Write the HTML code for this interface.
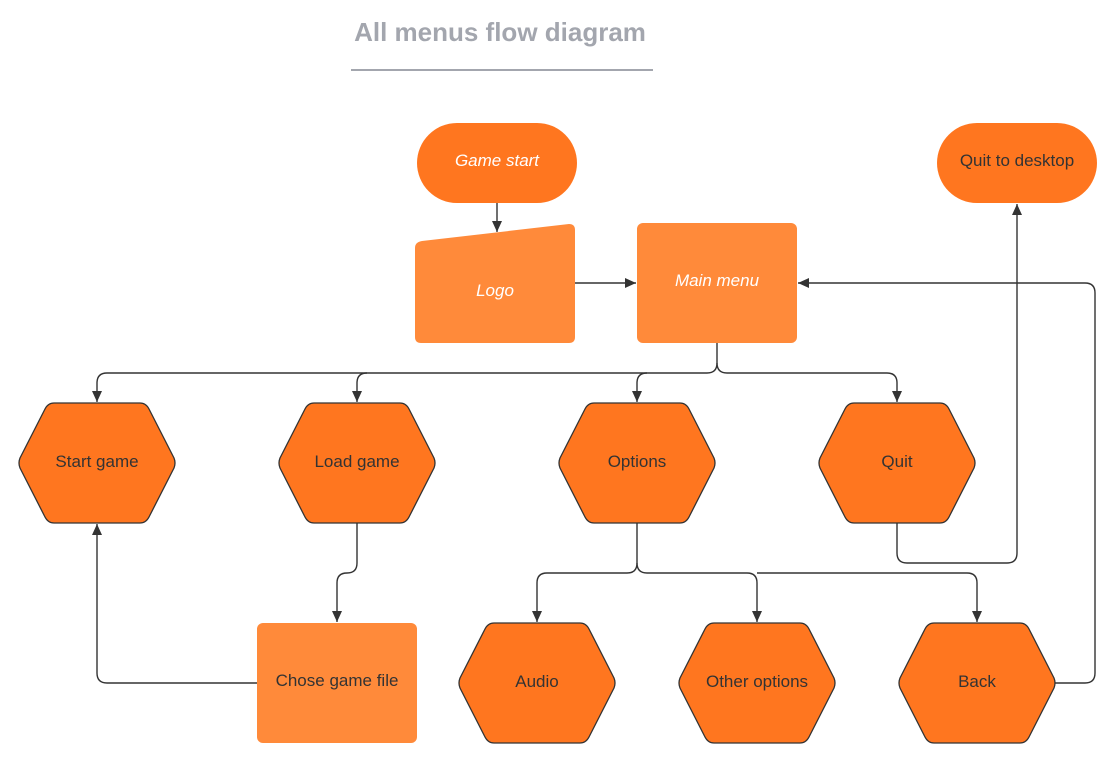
<!DOCTYPE html>
<html><head><style>
body{margin:0;background:#fff;}
svg{display:block;}
text{font-family:"Liberation Sans",sans-serif;}
</style></head><body>
<svg width="1105" height="783" viewBox="0 0 1105 783" xmlns="http://www.w3.org/2000/svg">
<defs>
<marker id="a" markerWidth="12" markerHeight="12" refX="11" refY="6" orient="auto" markerUnits="userSpaceOnUse">
<path d="M0,1 L11,6 L0,11 Z" fill="#333"/></marker>
</defs>
<text x="500" y="41" text-anchor="middle" font-size="26" font-weight="bold" fill="#A3A6AE">All menus flow diagram</text>
<line x1="351" y1="70" x2="653" y2="70" stroke="#A3A6AE" stroke-width="2"/>

<g fill="none" stroke="#333" stroke-width="1.4">
<path d="M497,203 V232" marker-end="url(#a)"/>
<path d="M575,283 H636" marker-end="url(#a)"/>
<path d="M717,343 V363 Q717,373 707,373 H107 Q97,373 97,383 V402" marker-end="url(#a)"/>
<path d="M367,373 Q357,373 357,383 V402" marker-end="url(#a)"/>
<path d="M647,373 Q637,373 637,383 V402" marker-end="url(#a)"/>
<path d="M717,363 Q717,373 727,373 H887 Q897,373 897,383 V402" marker-end="url(#a)"/>
<path d="M637,523 V563 Q637,573 627,573 H547 Q537,573 537,583 V622" marker-end="url(#a)"/>
<path d="M637,563 Q637,573 647,573 H747 Q757,573 757,583 V622" marker-end="url(#a)"/>
<path d="M757,573 H967 Q977,573 977,583 V622" marker-end="url(#a)"/>
<path d="M357,523 V563 Q357,573 347,573 Q337,573 337,583 V622" marker-end="url(#a)"/>
<path d="M257,683 H107 Q97,683 97,673 V524" marker-end="url(#a)"/>
<path d="M897,523 V553 Q897,563 907,563 H1007 Q1017,563 1017,553 V204" marker-end="url(#a)"/>
<path d="M1055,683 H1085 Q1095,683 1095,673 V293 Q1095,283 1085,283 H798" marker-end="url(#a)"/>
</g>

<rect x="417" y="123" width="160" height="80" rx="40" fill="#FF761F"/>
<text x="497" y="166" text-anchor="middle" font-size="17" font-style="italic" fill="#fff">Game start</text>
<rect x="937" y="123" width="160" height="80" rx="40" fill="#FF761F"/>
<text x="1017" y="166" text-anchor="middle" font-size="17" fill="#333">Quit to desktop</text>

<path d="M422,241 L569,224 Q575,224 575,230 V337 Q575,343 569,343 H421 Q415,343 415,337 V248 Q415,242 422,241 Z" fill="#FF8A3A"/>
<text x="495" y="296" text-anchor="middle" font-size="17" font-style="italic" fill="#fff">Logo</text>
<rect x="637" y="223" width="160" height="120" rx="6" fill="#FF8A3A"/>
<text x="717" y="286" text-anchor="middle" font-size="17" font-style="italic" fill="#fff">Main menu</text>
<rect x="257" y="623" width="160" height="120" rx="6" fill="#FF8A3A"/>
<text x="337" y="686" text-anchor="middle" font-size="17" fill="#333">Chose game file</text>

<g fill="#FF761F" stroke="#333" stroke-width="1.3" stroke-linejoin="round">
<path d="M20,458 L45,409 Q48,403 54,403 H140 Q146,403 149,409 L174,458 Q176,463 174,468 L149,517 Q146,523 140,523 H54 Q48,523 45,517 L20,468 Q18,463 20,458 Z"/>
<path transform="translate(260,0)" d="M20,458 L45,409 Q48,403 54,403 H140 Q146,403 149,409 L174,458 Q176,463 174,468 L149,517 Q146,523 140,523 H54 Q48,523 45,517 L20,468 Q18,463 20,458 Z"/>
<path transform="translate(540,0)" d="M20,458 L45,409 Q48,403 54,403 H140 Q146,403 149,409 L174,458 Q176,463 174,468 L149,517 Q146,523 140,523 H54 Q48,523 45,517 L20,468 Q18,463 20,458 Z"/>
<path transform="translate(800,0)" d="M20,458 L45,409 Q48,403 54,403 H140 Q146,403 149,409 L174,458 Q176,463 174,468 L149,517 Q146,523 140,523 H54 Q48,523 45,517 L20,468 Q18,463 20,458 Z"/>
<path transform="translate(440,220)" d="M20,458 L45,409 Q48,403 54,403 H140 Q146,403 149,409 L174,458 Q176,463 174,468 L149,517 Q146,523 140,523 H54 Q48,523 45,517 L20,468 Q18,463 20,458 Z"/>
<path transform="translate(660,220)" d="M20,458 L45,409 Q48,403 54,403 H140 Q146,403 149,409 L174,458 Q176,463 174,468 L149,517 Q146,523 140,523 H54 Q48,523 45,517 L20,468 Q18,463 20,458 Z"/>
<path transform="translate(880,220)" d="M20,458 L45,409 Q48,403 54,403 H140 Q146,403 149,409 L174,458 Q176,463 174,468 L149,517 Q146,523 140,523 H54 Q48,523 45,517 L20,468 Q18,463 20,458 Z"/>
</g>
<g font-size="17" fill="#333" text-anchor="middle">
<text x="97" y="467">Start game</text>
<text x="357" y="467">Load game</text>
<text x="637" y="467">Options</text>
<text x="897" y="467">Quit</text>
<text x="537" y="687">Audio</text>
<text x="757" y="687">Other options</text>
<text x="977" y="687">Back</text>
</g>
</svg>
</body></html>
